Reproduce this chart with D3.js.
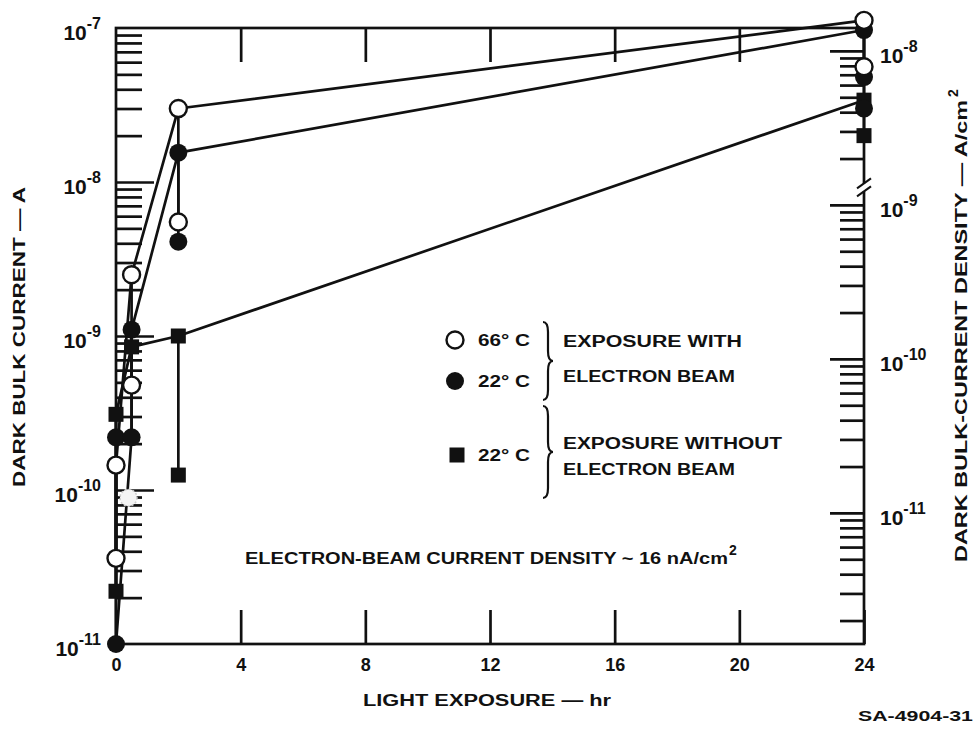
<!DOCTYPE html>
<html>
<head>
<meta charset="utf-8">
<script src="https://cdn.jsdelivr.net/npm/d3@7"></script>
<style>
  html, body { margin: 0; padding: 0; background: #fff; }
  svg { display: block; }
  text { font-family: "Liberation Sans", Arial, Helvetica, sans-serif; fill: #111; }
</style>
</head>
<body>
<svg id="chart" width="975" height="729"></svg>
<script>
// ---- data -------------------------------------------------------------
const hourTicks = [0, 4, 8, 12, 16, 20, 24];          // light exposure, hr
const currentDecades = [-11, -10, -9, -8, -7];         // dark bulk current, A
const densityDecades = [-11, -10, -9, -8];             // current density, A/cm^2
const deviceArea = 7.1;                                // cm^2, current -> density

// 66 °C, exposure with electron beam  [hr, A]
const beam66 = [[0, 3.6e-11], [0, 1.45e-10], [0.5, 4.8e-10], [0.5, 2.5e-9],
                [2, 5.5e-9], [2, 3.0e-8], [24, 5.6e-8], [24, 1.12e-7]];
const beam66Trace = [[0, 3.6e-11], [0, 1.45e-10], [0.5, 2.5e-9], [2, 3.0e-8], [24, 1.12e-7]];

// 22 °C, exposure with electron beam
const beam22 = [[0, 1.0e-11], [0, 2.2e-10], [0.5, 2.2e-10], [0.5, 1.1e-9],
                [2, 4.1e-9], [2, 1.55e-8], [24, 3.0e-8], [24, 4.8e-8], [24, 9.7e-8]];
const beam22Trace = [[0, 1.0e-11], [0.5, 2.2e-10], [0.5, 1.1e-9], [2, 1.55e-8], [24, 9.7e-8]];

// 22 °C, exposure without electron beam
const noBeam22 = [[0, 2.2e-11], [0, 3.1e-10], [0.5, 8.5e-10], [2, 1.25e-10], [2, 1.0e-9],
                  [24, 2.0e-8], [24, 3.4e-8]];
const noBeam22Trace = [[0, 2.2e-11], [0, 3.1e-10], [0.5, 8.5e-10], [2, 1.0e-9], [24, 3.4e-8]];

// a faint, partly erased reading
const fadedPoints = [[0.4, 8.9e-11]];

// ---- scales -----------------------------------------------------------
const x = d3.scaleLinear().domain([0, 24]).range([116, 864]);
const y = d3.scaleLog().domain([1e-11, 1e-7]).range([644, 28]);
const yR = d3.scaleLog().domain([1e-11 / deviceArea, 1e-7 / deviceArea]).range([644, 28]);

const svg = d3.select("#chart");
const ink = "#111";
const lw = 2.7;

// ---- frame & axes -----------------------------------------------------
const x0 = x(0), x1 = x(24), yTop = y(1e-7), yBot = y(1e-11);

function minorsOf(decades, lo, hi) {
  const out = [];
  decades.forEach(d => { for (let m = 2; m <= 9; m++) { const v = m * Math.pow(10, d); if (v > lo && v < hi) out.push(v); } });
  return out;
}
function styleAxis(g) {
  g.selectAll("path, line").attr("stroke", ink).attr("stroke-width", lw);
  g.select(".domain").remove();
}

// left axis: ticks point into the plot
const leftMajor = currentDecades.map(d => Math.pow(10, d));
const leftMinor = minorsOf([-11, -10, -9, -8], 1e-11, 1e-7);
svg.append("g").attr("transform", `translate(${x0},0)`)
  .call(d3.axisRight(y).tickValues(leftMinor).tickSize(26).tickFormat(""))
  .call(styleAxis);
svg.append("g").attr("transform", `translate(${x0},0)`)
  .call(d3.axisRight(y).tickValues(leftMajor.slice(1, 4)).tickSize(38).tickFormat(""))
  .call(styleAxis);

// right axis (density), ticks point into the plot
const rLo = 1e-11 / deviceArea, rHi = 1e-7 / deviceArea;
const rightMajor = densityDecades.map(d => Math.pow(10, d)).filter(v => v > rLo && v < rHi);
const rightMinor = minorsOf([-12, -11, -10, -9, -8], rLo, rHi);
svg.append("g").attr("transform", `translate(${x1},0)`)
  .call(d3.axisLeft(yR).tickValues(rightMinor).tickSize(24).tickFormat(""))
  .call(styleAxis);
svg.append("g").attr("transform", `translate(${x1},0)`)
  .call(d3.axisLeft(yR).tickValues(rightMajor).tickSize(34).tickFormat(""))
  .call(styleAxis);

// top and bottom hour ticks
svg.append("g").attr("transform", `translate(0,${yTop})`)
  .call(d3.axisBottom(x).tickValues(hourTicks.slice(1, -1)).tickSize(34).tickFormat(""))
  .call(styleAxis);
const bottomAxis = svg.append("g").attr("transform", `translate(0,${yBot})`)
  .call(d3.axisBottom(x).tickValues(hourTicks).tickSize(-34).tickPadding(14).tickFormat(d3.format("d")))
  .call(styleAxis);
bottomAxis.selectAll("text")
  .attr("font-size", 18).attr("font-weight", "bold").attr("fill", ink)
  .attr("font-family", '"Liberation Sans", Arial, sans-serif');

// frame
svg.append("rect")
  .attr("x", x0).attr("y", yTop).attr("width", x1 - x0).attr("height", yBot - yTop)
  .attr("fill", "none").attr("stroke", ink).attr("stroke-width", lw);

// break mark on the density axis
const yBreak = yR(1.3e-9);
svg.append("rect").attr("x", x1 - 3).attr("y", yBreak - 4).attr("width", 6).attr("height", 8).attr("fill", "#fff");
[-4, 4].forEach(o => {
  svg.append("line")
    .attr("x1", x1 - 7).attr("y1", yBreak + o + 5).attr("x2", x1 + 7).attr("y2", yBreak + o - 5)
    .attr("stroke", ink).attr("stroke-width", 2);
});

// power-of-ten labels
function powLabel(g, xPos, yPos, exp, anchor) {
  const t = g.append("text").attr("x", xPos).attr("y", yPos)
    .attr("text-anchor", anchor).attr("font-weight", "bold").attr("font-size", 21);
  t.append("tspan").text("10");
  t.append("tspan").attr("dy", -11).attr("font-size", 16).text("-" + Math.abs(exp));
}
const labels = svg.append("g");
currentDecades.forEach(d => powLabel(labels, 101, y(Math.pow(10, d)) + 12, d, "end"));
densityDecades.forEach(d => {
  const v = Math.pow(10, d);
  if (v > rLo && v < rHi) powLabel(labels, 880, yR(v) + 12, d, "start");
});

// ---- text helpers ------------------------------------------------------
function fitText(g, str, xPos, yPos, len, size, weight) {
  return g.append("text").attr("x", xPos).attr("y", yPos)
    .attr("font-size", size).attr("font-weight", weight || "bold")
    .attr("textLength", len).attr("lengthAdjust", "spacingAndGlyphs").text(str);
}
function sup(g, str, xPos, yPos, size) {
  return g.append("text").attr("x", xPos).attr("y", yPos)
    .attr("font-size", size).attr("font-weight", "bold").text(str);
}

// axis titles
fitText(svg, "LIGHT EXPOSURE \u2014 hr", 363, 706, 248, 16);

const leftTitle = svg.append("g").attr("transform", "translate(25,337) rotate(-90)");
fitText(leftTitle, "DARK BULK CURRENT \u2014 A", -150, 0, 300, 16);

const rightTitle = svg.append("g").attr("transform", "translate(967,325) rotate(-90)");
fitText(rightTitle, "DARK BULK-CURRENT DENSITY \u2014 A/cm", -237, 0, 462, 16);
sup(rightTitle, "2", 228, -9, 14);

// beam current note
fitText(svg, "ELECTRON-BEAM CURRENT DENSITY ~ 16 nA/cm", 245, 564, 483, 16);
sup(svg, "2", 729, 555, 14);

// drawing number
fitText(svg, "SA-4904-31", 858, 721, 115, 14);

// ---- data marks ----------------------------------------------------------
const line = d3.line().x(d => x(d[0])).y(d => y(d[1]));
const plot = svg.append("g");

function rangeBars(points) {
  return Array.from(d3.group(points, d => d[0]), ([hr, pts]) => [hr, d3.min(pts, p => p[1]), d3.max(pts, p => p[1])])
    .filter(r => r[1] < r[2]);
}

[beam66Trace, beam22Trace, noBeam22Trace].forEach(tr => {
  plot.append("path").attr("d", line(tr)).attr("fill", "none")
    .attr("stroke", ink).attr("stroke-width", lw).attr("stroke-linejoin", "round");
});
[beam66, beam22, noBeam22].forEach(pts => {
  rangeBars(pts).forEach(r => {
    plot.append("line").attr("x1", x(r[0])).attr("x2", x(r[0]))
      .attr("y1", y(r[1])).attr("y2", y(r[2]))
      .attr("stroke", ink).attr("stroke-width", lw);
  });
});

function marker(g, kind, cx, cy) {
  if (kind === "open") {
    g.append("circle").attr("cx", cx).attr("cy", cy).attr("r", 8.5)
      .attr("fill", "#fff").attr("stroke", ink).attr("stroke-width", 2.4);
  } else if (kind === "filled") {
    g.append("circle").attr("cx", cx).attr("cy", cy).attr("r", 9).attr("fill", ink);
  } else {
    g.append("rect").attr("x", cx - 7.5).attr("y", cy - 7.5).attr("width", 15).attr("height", 15).attr("fill", ink);
  }
}

fadedPoints.forEach(p => {
  plot.append("circle").attr("cx", x(p[0])).attr("cy", y(p[1])).attr("r", 8.5)
    .attr("fill", "#f4f4f4").attr("stroke", "#ccc").attr("stroke-width", 1.5).attr("stroke-dasharray", "2,2");
});
noBeam22.forEach(p => marker(plot, "square", x(p[0]), y(p[1])));
beam22.forEach(p => marker(plot, "filled", x(p[0]), y(p[1])));
beam66.forEach(p => marker(plot, "open", x(p[0]), y(p[1])));

// ---- legend --------------------------------------------------------------
const legend = svg.append("g");
marker(legend, "open", 455, 340);
marker(legend, "filled", 455, 381);
marker(legend, "square", 457, 455);
fitText(legend, "66\u00b0 C", 478, 346, 52, 16);
fitText(legend, "22\u00b0 C", 478, 387, 52, 16);
fitText(legend, "22\u00b0 C", 478, 461, 52, 16);
fitText(legend, "EXPOSURE WITH", 563, 347, 179, 16);
fitText(legend, "ELECTRON BEAM", 563, 382, 172, 16);
fitText(legend, "EXPOSURE WITHOUT", 563, 449, 219, 16);
fitText(legend, "ELECTRON BEAM", 563, 475, 172, 16);

function bracePath(bx, y0, y1, w) {
  const ym = (y0 + y1) / 2, h = w / 2;
  return `M${bx},${y0} Q${bx + h},${y0} ${bx + h},${y0 + w}` +
         ` L${bx + h},${ym - w} Q${bx + h},${ym} ${bx + w},${ym}` +
         ` Q${bx + h},${ym} ${bx + h},${ym + w}` +
         ` L${bx + h},${y1 - w} Q${bx + h},${y1} ${bx},${y1}`;
}
legend.append("path").attr("d", bracePath(543, 322, 400, 10))
  .attr("fill", "none").attr("stroke", ink).attr("stroke-width", 2.2);
legend.append("path").attr("d", bracePath(543, 406, 498, 10))
  .attr("fill", "none").attr("stroke", ink).attr("stroke-width", 2.2);
</script>
</body>
</html>
